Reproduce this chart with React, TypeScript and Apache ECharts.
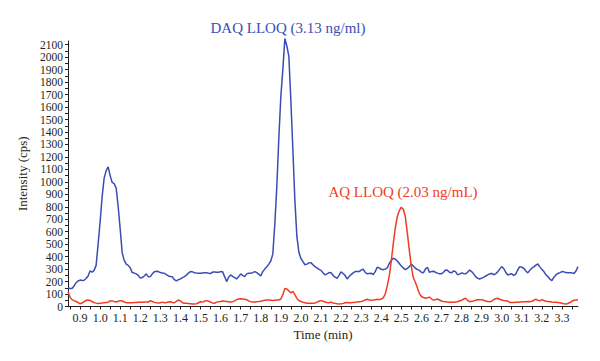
import React, { useEffect, useRef } from "react";
import * as echarts from "echarts";

// Sampling grid of the chromatogram (min)
const START_TIME = 0.84;
const TIME_STEP = 0.01;

// DAQ trace (blue), intensity in cps, one value per 0.01 min from 0.84 min
const daqValues = [
  150, 145, 145, 165, 190, 205, 212, 208, 210, 225,
  245, 285, 275, 290, 330, 500, 680, 880, 1030, 1090,
  1120, 1050, 995, 985, 950, 800, 620, 430, 370, 340,
  330, 310, 272, 268, 262, 250, 228, 232, 245, 262,
  238, 240, 262, 278, 282, 280, 272, 268, 266, 255,
  245, 240, 238, 215, 205, 215, 222, 232, 240, 252,
  268, 280, 278, 271, 268, 267, 266, 268, 270, 271,
  266, 264, 276, 277, 274, 275, 280, 278, 240, 200,
  235, 253, 242, 232, 221, 240, 261, 250, 240, 262,
  267, 267, 272, 280, 272, 260, 245, 280, 300, 318,
  340, 365, 420, 660, 960, 1350, 1685, 1900, 2150, 2090,
  2006, 1650, 1257, 850, 560, 435, 385, 360, 335, 340,
  350, 352, 335, 320, 310, 298, 290, 270, 253, 262,
  272, 270, 250, 235, 226, 250, 278, 265, 250, 221,
  240, 256, 270, 280, 280, 280, 292, 300, 275, 262,
  265, 267, 255, 280, 315, 310, 298, 295, 300, 310,
  345, 370, 387, 380, 365, 345, 325, 310, 295, 305,
  320, 340, 325, 307, 298, 290, 275, 270, 300, 315,
  275, 280, 283, 275, 268, 262, 262, 275, 293, 290,
  275, 270, 285, 280, 255, 260, 270, 265, 262, 275,
  293, 280, 262, 240, 228, 221, 228, 234, 245, 253,
  262, 265, 255, 262, 278, 300, 320, 305, 275, 253,
  258, 262, 250, 260, 295, 320, 315, 307, 285, 270,
  290, 307, 318, 332, 341, 318, 298, 280, 255, 240,
  220, 207, 235, 253, 265, 272, 280, 278, 272, 270,
  270, 270, 265, 285, 320,
];

// AQ trace (red), intensity in cps, one value per 0.01 min from 0.84 min
const aqValues = [
  120, 75, 55, 47, 40, 33, 22, 28, 39, 48,
  52, 49, 40, 31, 27, 25, 26, 28, 31, 33,
  35, 45, 45, 40, 36, 42, 47, 44, 36, 31,
  30, 30, 30, 32, 33, 35, 35, 35, 36, 36,
  35, 47, 40, 33, 30, 28, 30, 35, 30, 32,
  36, 38, 32, 30, 42, 52, 45, 30, 26, 26,
  24, 22, 20, 20, 22, 30, 38, 35, 42, 47,
  42, 35, 28, 26, 35, 39, 40, 44, 42, 40,
  38, 36, 39, 45, 55, 60, 62, 60, 58, 55,
  45, 39, 36, 36, 38, 40, 43, 46, 50, 52,
  52, 50, 48, 50, 52, 52, 60, 95, 145, 140,
  125, 108, 122, 95, 65, 48, 40, 35, 30, 26,
  26, 26, 26, 28, 35, 42, 47, 42, 36, 32,
  30, 35, 28, 25, 22, 20, 22, 25, 30, 32,
  31, 30, 33, 35, 36, 38, 40, 45, 52, 58,
  52, 50, 52, 55, 58, 55, 60, 70, 100, 165,
  245, 365, 505, 630, 720, 770, 797, 780, 720, 590,
  450, 320, 230, 195, 150, 105, 80, 72, 66, 70,
  75, 62, 50, 55, 60, 52, 44, 40, 38, 36,
  35, 34, 34, 36, 38, 44, 50, 60, 66, 50,
  39, 42, 45, 50, 54, 55, 55, 50, 44, 40,
  39, 42, 55, 62, 66, 58, 52, 48, 47, 44,
  33, 33, 33, 34, 35, 36, 37, 38, 38, 40,
  38, 42, 50, 60, 50, 45, 55, 48, 42, 40,
  38, 36, 35, 34, 32, 30, 26, 22, 20, 24,
  32, 42, 50, 53, 55,
];

const xTickLabels = [
  0.9, 1.0, 1.1, 1.2, 1.3, 1.4, 1.5, 1.6, 1.7, 1.8, 1.9, 2.0, 2.1,
  2.2, 2.3, 2.4, 2.5, 2.6, 2.7, 2.8, 2.9, 3.0, 3.1, 3.2, 3.3,
];
const xTickMarks = [
  0.85, 0.9, 0.95, 1.0, 1.05, 1.1, 1.15, 1.2, 1.25, 1.3, 1.35, 1.4, 1.45,
  1.5, 1.55, 1.6, 1.65, 1.7, 1.75, 1.8, 1.85, 1.9, 1.95, 2.0, 2.05, 2.1,
  2.15, 2.2, 2.25, 2.3, 2.35, 2.4, 2.45, 2.5, 2.55, 2.6, 2.65, 2.7, 2.75,
  2.8, 2.85, 2.9, 2.95, 3.0, 3.05, 3.1, 3.15, 3.2, 3.25, 3.3, 3.35,
];
const yTickLabels = [
  0, 100, 200, 300, 400, 500, 600, 700, 800, 900, 1000, 1100, 1200, 1300,
  1400, 1500, 1600, 1700, 1800, 1900, 2000, 2100,
];
const yTickMarks = [
  0, 50, 100, 150, 200, 250, 300, 350, 400, 450, 500, 550, 600, 650, 700,
  750, 800, 850, 900, 950, 1000, 1050, 1100, 1150, 1200, 1250, 1300, 1350,
  1400, 1450, 1500, 1550, 1600, 1650, 1700, 1750, 1800, 1850, 1900, 1950,
  2000, 2050, 2100,
];

const SERIF = '"Liberation Serif", "DejaVu Serif", "Times New Roman", serif';
const INK = "#231f20";
const BLUE = "#3b4db3";
const RED = "#f03c22";

function toPairs(values: number[]): [number, number][] {
  return values.map((v, i) => [
    Math.round((START_TIME + i * TIME_STEP) * 100) / 100,
    v,
  ]);
}

export default function App() {
  const ref = useRef<HTMLDivElement>(null);

  useEffect(() => {
    if (!ref.current) return;
    const chart = echarts.init(ref.current, undefined, { renderer: "svg" });
    chart.setOption({
      animation: false,
      backgroundColor: "#ffffff",
      textStyle: { fontFamily: SERIF },
      grid: { left: 68, right: 22, top: 41, bottom: 54.5 },
      xAxis: {
        type: "value",
        min: 0.84,
        max: 3.38,
        name: "Time (min)",
        nameLocation: "middle",
        nameGap: 19,
        nameTextStyle: { fontFamily: SERIF, fontSize: 13, color: INK },
        axisLine: { show: true, lineStyle: { color: INK, width: 1 } },
        axisTick: {
          show: true,
          customValues: xTickMarks,
          length: 3,
          lineStyle: { color: INK, width: 1 },
        },
        axisLabel: {
          customValues: xTickLabels,
          formatter: (v: number) => v.toFixed(1),
          fontFamily: SERIF,
          fontSize: 12,
          lineHeight: 12,
          color: INK,
          margin: 5,
        },
        splitLine: { show: false },
      },
      yAxis: {
        type: "value",
        min: 0,
        max: 2130,
        name: "Intensity (cps)",
        nameLocation: "middle",
        nameGap: 32,
        nameTextStyle: { fontFamily: SERIF, fontSize: 13, color: INK },
        axisLine: { show: true, lineStyle: { color: INK, width: 1 } },
        axisTick: {
          show: true,
          customValues: yTickMarks,
          length: 3,
          lineStyle: { color: INK, width: 1 },
        },
        axisLabel: {
          customValues: yTickLabels,
          formatter: (v: number) => String(Math.round(v)),
          fontFamily: SERIF,
          fontSize: 11.5,
          lineHeight: 11,
          color: INK,
          margin: 5,
        },
        splitLine: { show: false },
      },
      series: [
        {
          name: "DAQ",
          type: "line",
          data: toPairs(daqValues),
          symbol: "none",
          clip: false,
          lineStyle: { color: BLUE, width: 1.5 },
          itemStyle: { color: BLUE },
        },
        {
          name: "AQ",
          type: "line",
          data: toPairs(aqValues),
          symbol: "none",
          clip: false,
          lineStyle: { color: RED, width: 1.5 },
          itemStyle: { color: RED },
        },
      ],
      graphic: [
        {
          type: "text",
          x: 288,
          y: 28,
          style: {
            text: "DAQ LLOQ (3.13 ng/ml)",
            fill: BLUE,
            font: `15px ${SERIF}`,
            textAlign: "center",
            textVerticalAlign: "middle",
          },
        },
        {
          type: "text",
          x: 403,
          y: 192,
          style: {
            text: "AQ LLOQ (2.03 ng/mL)",
            fill: RED,
            font: `15px ${SERIF}`,
            textAlign: "center",
            textVerticalAlign: "middle",
          },
        },
      ],
    });
    return () => chart.dispose();
  }, []);

  return (
    <div
      ref={ref}
      style={{ position: "fixed", left: 0, top: 0, width: 600, height: 361 }}
    />
  );
}
